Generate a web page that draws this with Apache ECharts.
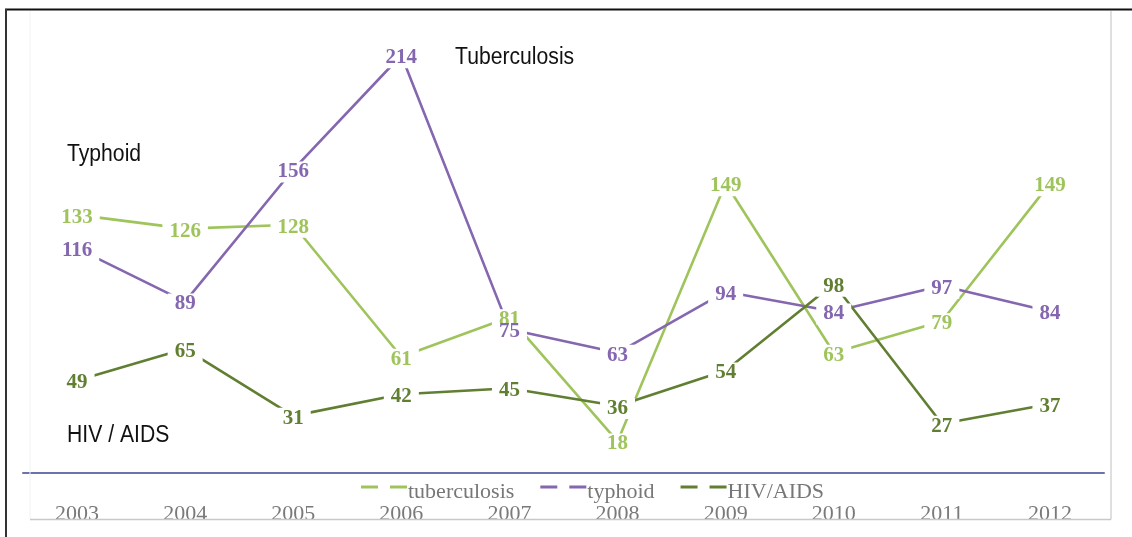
<!DOCTYPE html>
<html>
<head>
<meta charset="utf-8">
<script src="https://cdn.jsdelivr.net/npm/echarts@6/dist/echarts.min.js"></script>
<style>
html,body{margin:0;padding:0;background:#fff;}
#chart{width:1132px;height:537px;}
</style>
</head>
<body>
<div id="chart"></div>
<script>
const years = ['2003','2004','2005','2006','2007','2008','2009','2010','2011','2012'];
const tuberculosis = [133,126,128,61,81,18,149,63,79,149];
const typhoid = [116,89,156,214,75,63,94,84,97,84];
const hivAids = [49,65,31,42,45,36,54,98,27,37];
const seriesNames = ['tuberculosis','typhoid','HIV/AIDS'];
const colors = ['#9fc45c','#8567b0','#617f32'];

const chart = echarts.init(document.getElementById('chart'));
const dashIcon = 'path://M0,0H17V3H0Z M29,0H46V3H29Z M0,13H0.05V13.05H0Z';

function lineSeries(name, data, color){
  return {
    name: name, type: 'line', data: data,
    symbol: 'none', z: 2,
    lineStyle: {color: color, width: 2.6},
    itemStyle: {color: color},
    label: {show: false}
  };
}
function labelSeries(name, data, color, z, tightIndex){
  return {
    name: name, type: 'scatter',
    data: data.map((v, i) => i === tightIndex ? {value: v, label: {padding: [0, 7, 3, 7]}} : v),
    symbol: 'circle', symbolSize: 1, z: z,
    itemStyle: {color: 'rgba(255,255,255,0)', opacity: 1},
    emphasis: {disabled: true},
    label: {
      show: true,
      position: 'inside',
      offset: [0, 2.5],
      fontFamily: '"Liberation Serif", "DejaVu Serif", serif',
      fontWeight: 'bold',
      fontSize: 21,
      lineHeight: 14,
      color: color,
      opacity: 1,
      backgroundColor: '#ffffff',
      padding: [4, 7, 3, 7]
    }
  };
}

chart.setOption({
  backgroundColor: '#fff',
  animation: false,
  grid: {left: 23, right: 28, top: 4, bottom: 64},
  legend: {
    left: 356,
    top: 476,
    itemWidth: 46,
    itemHeight: 14,
    itemGap: 26,
    icon: dashIcon,
    textStyle: {fontFamily: '"Liberation Serif", serif', fontSize: 22, color: '#777', padding: [0,0,0,-4]},
    data: seriesNames.map((n,i)=>({name:n, itemStyle:{color:colors[i]}}))
  },
  xAxis: {
    type: 'category',
    data: years,
    boundaryGap: true,
    axisLine: {show: true, onZero: false, lineStyle: {color: '#6b73ad', width: 2}},
    axisTick: {show: false},
    splitLine: {show: false},
    axisLabel: {fontFamily: '"Liberation Serif", serif', fontSize: 22, color: '#7a7a7a', margin: 30}
  },
  yAxis: {
    type: 'value',
    min: 2,
    max: 240,
    show: false,
    splitLine: {show: false}
  },
  series: [
    lineSeries(seriesNames[0], tuberculosis, colors[0]),
    lineSeries(seriesNames[1], typhoid, colors[1]),
    lineSeries(seriesNames[2], hivAids, colors[2]),
    labelSeries(seriesNames[0], tuberculosis, colors[0], 5, -1),
    labelSeries(seriesNames[1], typhoid, colors[1], 6, 4),
    labelSeries(seriesNames[2], hivAids, colors[2], 7, -1)
  ],
  graphic: [
    {type:'line', shape:{x1:5, y1:9.5, x2:1132, y2:9.5}, style:{stroke:'#111', lineWidth:2}, z:100},
    {type:'line', shape:{x1:6, y1:9, x2:6, y2:537}, style:{stroke:'#333', lineWidth:2}, z:100},
    {type:'line', shape:{x1:30, y1:11, x2:30, y2:519}, style:{stroke:'#f2f2f2', lineWidth:1}, z:1},
    {type:'line', shape:{x1:1111, y1:11, x2:1111, y2:519.5}, style:{stroke:'#d4d4d4', lineWidth:1.5}, z:100},
    {type:'line', shape:{x1:30, y1:519.5, x2:1111, y2:519.5}, style:{stroke:'#c8c8c8', lineWidth:1.5}, z:100},
    {type:'text', x:455, y:58, scaleX:0.92, style:{text:'Tuberculosis', font:'23px "Liberation Sans", Arial, sans-serif', fill:'#111', verticalAlign:'middle'}, z:100},
    {type:'text', x:67, y:155, scaleX:0.92, style:{text:'Typhoid', font:'23px "Liberation Sans", Arial, sans-serif', fill:'#111', verticalAlign:'middle'}, z:100},
    {type:'text', x:67, y:436, scaleX:0.92, style:{text:'HIV / AIDS', font:'23px "Liberation Sans", Arial, sans-serif', fill:'#111', verticalAlign:'middle'}, z:100}
  ]
});
</script>
</body>
</html>
